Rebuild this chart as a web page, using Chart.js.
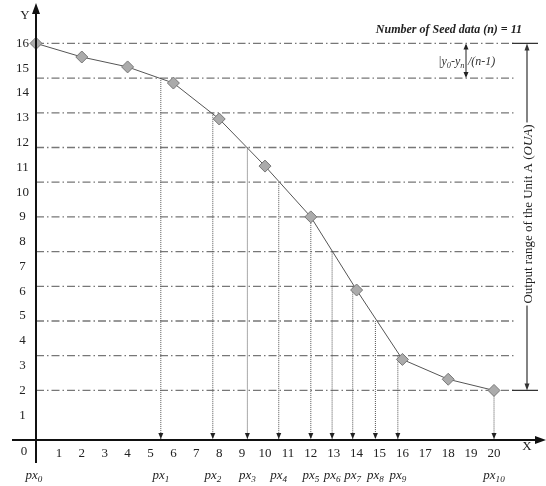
<!DOCTYPE html>
<html>
<head>
<meta charset="utf-8">
<script src="https://cdn.jsdelivr.net/npm/chart.js@4.4.0/dist/chart.umd.min.js"></script>
<style>
body{margin:0;background:#fff;}
canvas{display:block;}
</style>
</head>
<body>
<canvas id="seedChart" width="546" height="486"></canvas>
<script>
// SEED DATA
const seedX = [0,2,4,6,8,10,12,14,16,18,20];
const seedY = [16,15.45,15.05,14.4,12.95,11.05,9,6.05,3.25,2.45,2];

// output levels, one per seed (dash-dot lines)
const levels = [16,14.6,13.2,11.8,10.4,9,7.6,6.2,4.8,3.4,2];

// where each level projects down onto the X axis
const pxValues = [0,5.45,7.72,9.23,10.6,12,12.93,13.83,14.82,15.8,20];
const pxNames = ['0','1','2','3','4','5','6','7','8','9','10'];

// tick labels
const xTickLabels = [1,2,3,4,5,6,7,8,9,10,11,12,13,14,15,16,17,18,19,20];
const yTickLabels = [1,2,3,4,5,6,7,8,9,10,11,12,13,14,15,16];

const serif = '"Liberation Serif", "Times New Roman", serif';
const levelEnd = 20.85;

function arrowHead(ctx, x, y, dir, w, h){
    ctx.beginPath();
    ctx.moveTo(x, y);
    if(dir==='down'){ ctx.lineTo(x-w, y-h); ctx.lineTo(x+w, y-h); }
    if(dir==='up'){ ctx.lineTo(x-w, y+h); ctx.lineTo(x+w, y+h); }
    if(dir==='right'){ ctx.lineTo(x-h, y-w); ctx.lineTo(x-h, y+w); }
    ctx.closePath();
    ctx.fill();
}

// draws runs of text, some as subscripts, returns total width
function drawRuns(ctx, runs, x, y, size, style, measureOnly){
    let w = 0;
    runs.forEach(r=>{
        const sub = r[1];
        const fs = sub ? size*0.7 : size;
        ctx.font = `${r[2]||style} ${fs}px ${serif}`;
        if(!measureOnly) ctx.fillText(r[0], x+w, sub ? y+3 : y);
        w += ctx.measureText(r[0]).width;
    });
    return w;
}

// DATASETS
const datasets = [];

levels.forEach(l=>{
    datasets.push({
        data:[{x:0,y:l},{x:levelEnd,y:l}],
        borderColor:'#777',
        borderWidth:1.3,
        borderDash:[8,3,1.5,3],
        pointRadius:0,
        showLine:true,
        clip:false,
        order:3
    });
});

pxValues.forEach((v,i)=>{
    if(i===0) return;
    datasets.push({
        data:[{x:v,y:levels[i]},{x:v,y:0}],
        borderColor:'#555',
        borderWidth:1,
        borderDash:[1,1],
        pointRadius:0,
        showLine:true,
        clip:false,
        order:2
    });
});

datasets.push({
    data: seedX.map((x,i)=>({x, y:seedY[i]})),
    borderColor:'#555',
    borderWidth:1,
    showLine:true,
    pointStyle:'rectRot',
    pointRadius:6,
    pointBackgroundColor:'#ababab',
    pointBorderColor:'#777',
    pointBorderWidth:1,
    clip:false,
    order:1
});

// EXTRA DRAWING: axes, arrows, annotations
const decor = {
    id:'decor',
    afterDraw(chart){
        const ctx = chart.ctx, xs = chart.scales.x, ys = chart.scales.y;
        const X = v=>xs.getPixelForValue(v), Y = v=>ys.getPixelForValue(v);
        const ox = X(0), oy = Y(0);
        ctx.save();

        // arrow tips of the projection lines
        ctx.fillStyle = '#222';
        pxValues.slice(1).forEach(v=>arrowHead(ctx, X(v), oy-1, 'down', 2.5, 6));

        // axes
        ctx.strokeStyle = '#111';
        ctx.lineWidth = 2;
        ctx.beginPath();
        ctx.moveTo(12, oy); ctx.lineTo(538, oy);
        ctx.moveTo(ox, 463); ctx.lineTo(ox, 12);
        ctx.stroke();
        ctx.fillStyle = '#111';
        arrowHead(ctx, 546, oy, 'right', 4, 11);
        arrowHead(ctx, ox, 3, 'up', 4, 11);

        // axis letters and the origin label
        ctx.fillStyle = '#222';
        ctx.textAlign = 'center';
        ctx.textBaseline = 'middle';
        ctx.font = `13px ${serif}`;
        ctx.fillText('Y', 25, 16);
        ctx.fillText('X', 527, 447);
        ctx.fillText('0', 24, 452);

        // px labels
        ctx.textBaseline = 'alphabetic';
        ctx.textAlign = 'left';
        pxValues.forEach((v,i)=>{
            const runs = [['px',false],[pxNames[i],true]];
            const w = drawRuns(ctx, runs, 0, 0, 13, 'italic', true);
            const cx = i===0 ? X(v)-2 : X(v);
            drawRuns(ctx, runs, cx - w/2, 479, 13, 'italic');
        });

        // title
        ctx.textAlign = 'right';
        ctx.font = `italic bold 12px ${serif}`;
        ctx.fillText('Number of Seed data (n) = 11', 522, 33);
        ctx.textAlign = 'left';

        // step size note with its small double arrow
        const ax = 466, y16 = Y(levels[0]), y15 = Y(levels[1]);
        ctx.strokeStyle = '#222';
        ctx.lineWidth = 1;
        ctx.beginPath(); ctx.moveTo(ax, y16+2); ctx.lineTo(ax, y15-2); ctx.stroke();
        arrowHead(ctx, ax, y16, 'up', 2.5, 6);
        arrowHead(ctx, ax, y15, 'down', 2.5, 6);
        ctx.fillStyle = '#333';
        const noteRuns = [['|y',false],['0',true],['-y',false],['n',true]];
        const nw = drawRuns(ctx, noteRuns, 0, 0, 12, 'italic', true);
        drawRuns(ctx, noteRuns, ax - 1.5 - nw, 65, 12, 'italic');
        drawRuns(ctx, [['/(n-1)',false]], ax + 2, 65, 12, 'italic');

        // OUA bracket
        const y2 = Y(levels[levels.length-1]);
        const bx = 527;
        ctx.strokeStyle = '#333';
        ctx.lineWidth = 1.2;
        ctx.beginPath();
        ctx.moveTo(512, y16); ctx.lineTo(538, y16);
        ctx.moveTo(512, y2); ctx.lineTo(538, y2);
        ctx.moveTo(bx, y16+3); ctx.lineTo(bx, y2-3);
        ctx.stroke();
        ctx.fillStyle = '#333';
        arrowHead(ctx, bx, y16, 'up', 2.5, 7);
        arrowHead(ctx, bx, y2, 'down', 2.5, 7);

        ctx.translate(bx, 214);
        ctx.rotate(-Math.PI/2);
        const ouaRuns = [['Output range of the Unit A (',false,'normal'],['OUA',false,'italic'],[')',false,'normal']];
        const tw = drawRuns(ctx, ouaRuns, 0, 0, 13, 'normal', true);
        ctx.fillStyle = '#fff';
        ctx.fillRect(-tw/2-2, -7, tw+4, 14);
        ctx.fillStyle = '#222';
        drawRuns(ctx, ouaRuns, -tw/2, 4.5, 13, 'normal');
        ctx.restore();
    }
};

new Chart(document.getElementById('seedChart'), {
    type:'scatter',
    data:{ datasets },
    options:{
        responsive:false,
        animation:false,
        layout:{ padding:0, autoPadding:false },
        plugins:{ legend:{display:false}, tooltip:{enabled:false} },
        scales:{
            x:{
                type:'linear', min:0, max:22.27,
                grid:{display:false, drawTicks:false},
                border:{display:false},
                afterFit: s=>{ s.height = 46; s.paddingLeft = 0; s.paddingRight = 0; },
                ticks:{
                    stepSize:1, autoSkip:false, maxRotation:0, padding:6,
                    color:'#222', font:{family:serif, size:13},
                    callback: v=> xTickLabels.includes(v) ? String(v) : ''
                }
            },
            y:{
                type:'linear', min:0, max:17.75,
                grid:{display:false, drawTicks:false},
                border:{display:false},
                afterFit: s=>{ s.width = 36; s.paddingTop = 0; s.paddingBottom = 0; },
                ticks:{
                    stepSize:1, autoSkip:false, padding:7, crossAlign:'center',
                    color:'#222', font:{family:serif, size:13},
                    callback: v=> yTickLabels.includes(v) ? String(v) : ''
                }
            }
        }
    },
    plugins:[decor]
});
</script>
</body>
</html>
